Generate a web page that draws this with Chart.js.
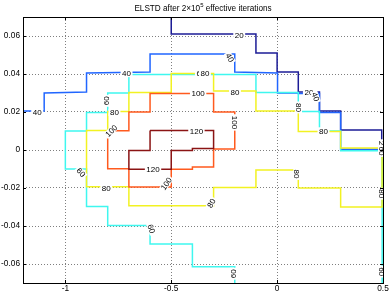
<!DOCTYPE html>
<html>
<head>
<meta charset="utf-8">
<script src="https://cdn.jsdelivr.net/npm/chart.js@4"></script>
<style>
html, body { margin: 0; padding: 0; background: #fff; }
canvas { display: block; }
</style>
</head>
<body>
<canvas id="chart" width="390" height="293" style="width:390px;height:293px"></canvas>
<script>
// contour levels and their colours (jet-like)
const levels = [20, 40, 60, 80, 100, 120];
const levelColors = ['#1c1c96', '#2166ff', '#3ff7ef', '#f2f222', '#ff5a1e', '#8b1414'];

const xTicks = [-1, -0.5, 0, 0.5];
const yTicks = [-0.06, -0.04, -0.02, 0, 0.02, 0.04, 0.06];

// contour paths, [x, y]
const contour20 = [[-0.5, 0.07], [-0.5, 0.061], [-0.1, 0.061], [-0.1, 0.051], [0.0, 0.051], [0.0, 0.041],
    [0.1, 0.041], [0.1, 0.0305], [0.2, 0.0305], [0.2, 0.0205], [0.3, 0.0205], [0.3, 0.0105],
    [0.494, 0.0105], [0.494, -0.003]];
const contour40 = [[-1.2, 0.0205], [-1.1, 0.0205], [-1.1, 0.03], [-0.9, 0.0305], [-0.9, 0.0405],
    [-0.6, 0.041], [-0.6, 0.0505], [-0.2, 0.0505], [-0.2, 0.041], [0.002, 0.0405], [0.002, 0.03],
    [0.1, 0.03], [0.1, 0.0298], [0.2, 0.0298], [0.2, 0.0198], [0.3, 0.0198], [0.3, 0.0004],
    [0.494, 0.0004], [0.494, -0.004]];
const contour60 = [[-0.2, -0.07], [-0.2, -0.0615], [-0.4, -0.0615], [-0.4, -0.0495], [-0.6, -0.0495],
    [-0.6, -0.0398], [-0.8, -0.0398], [-0.8, -0.0298], [-0.9, -0.0298], [-0.9, -0.01], [-1.0, -0.01],
    [-1.0, 0.01], [-0.9, 0.01], [-0.9, 0.0198], [-0.8, 0.0198], [-0.8, 0.03], [-0.7, 0.03],
    [-0.7, 0.0398], [-0.1, 0.0398], [-0.1, 0.0302], [0.1, 0.0302], [0.1, 0.0202], [0.2, 0.0202],
    [0.2, 0.01], [0.3, 0.01], [0.3, -0.0004], [0.496, -0.0004], [0.496, -0.07]];
const contour80 = [[-0.9, 0.0], [-0.9, 0.0102], [-0.8, 0.0102], [-0.8, 0.0202], [-0.7, 0.0202],
    [-0.7, 0.0302], [-0.5, 0.0302], [-0.5, 0.0402], [-0.3, 0.0402], [-0.3, 0.031], [-0.1, 0.031],
    [-0.1, 0.0205], [0.1, 0.0205], [0.1, 0.0098], [0.3, 0.0098], [0.3, 0.001], [0.4955, 0.001],
    [0.4955, -0.03], [0.3, -0.03], [0.3, -0.02], [0.1, -0.02], [0.1, -0.0105], [-0.1, -0.0105],
    [-0.1, -0.0198], [-0.3, -0.0198], [-0.3, -0.0293], [-0.7, -0.0293], [-0.7, -0.0194],
    [-0.9, -0.0194], [-0.9, 0.0]];
const contour100 = [[-0.8, 0.0101], [-0.7, 0.0101], [-0.7, 0.02], [-0.6, 0.02], [-0.6, 0.0297],
    [-0.3, 0.0297], [-0.3, 0.02], [-0.2, 0.02], [-0.2, 0.0005], [-0.3, 0.0005], [-0.3, -0.009],
    [-0.4, -0.009], [-0.4, -0.0101], [-0.5, -0.0101], [-0.5, -0.0195], [-0.7, -0.0195],
    [-0.7, -0.0099], [-0.8, -0.0099], [-0.8, 0.0101]];
const contour120 = [[-0.6, 0.0102], [-0.3, 0.0102], [-0.3, 0.0008], [-0.4, 0.0008], [-0.4, -0.0002],
    [-0.5, -0.0002], [-0.5, -0.0101], [-0.7, -0.0101], [-0.7, -0.0003], [-0.6, -0.0003], [-0.6, 0.0102]];

const contours = [contour20, contour40, contour60, contour80, contour100, contour120];

// inline contour labels: text, x, y, rotation (deg)
const contourLabels = [
    ['40', -1.133, 0.0201, 0],
    ['40', -0.711, 0.0402, 0],
    ['20', -0.179, 0.0605, 0],
    ['40', -0.223, 0.0486, 60],
    ['60', -0.360, 0.0402, 0],
    ['80', -0.341, 0.0402, 0],
    ['100', -0.373, 0.0297, 0],
    ['80', -0.199, 0.0305, 0],
    ['100', -0.199, 0.0145, 90],
    ['120', -0.381, 0.0101, 0],
    ['120', -0.586, -0.0100, 0],
    ['100', -0.523, -0.0178, -55],
    ['100', -0.783, 0.0101, -45],
    ['80', -0.768, 0.0197, 0],
    ['60', -0.807, 0.0259, -90],
    ['80', -0.807, -0.0199, 0],
    ['60', -0.926, -0.0118, 50],
    ['60', -0.594, -0.0415, 70],
    ['60', -0.207, -0.0651, -90],
    ['80', -0.310, -0.0280, -60],
    ['80', 0.093, -0.0126, 90],
    ['80', 0.101, 0.0224, 90],
    ['80', 0.219, 0.0101, 0],
    ['20', 0.150, 0.0302, 0],
    ['40', 0.182, 0.0280, 70],
    ['20', 0.493, 0.0025, 90],
    ['60', 0.493, -0.0005, 90],
    ['80', 0.493, -0.0230, 90],
    ['60', 0.493, -0.0640, 90]
];

const FONT = '"Liberation Sans", Arial, sans-serif';

const datasets = contours.map((pts, i) => ({
    label: String(levels[i]),
    data: pts.map(p => ({ x: p[0], y: p[1] })),
    showLine: true,
    borderColor: levelColors[i],
    borderWidth: 1.5,
    pointRadius: 0,
    tension: 0,
    fill: false,
    order: levels.length - i
}));

const framePlugin = {
    id: 'frame',
    afterDatasetsDraw(chart) {
        const ctx = chart.ctx;
        const a = chart.chartArea;
        const sx = chart.scales.x, sy = chart.scales.y;

        // labels on the contours
        ctx.save();
        ctx.beginPath();
        ctx.rect(a.left, a.top, a.right - a.left, a.bottom - a.top);
        ctx.clip();
        ctx.font = '8px ' + FONT;
        ctx.textAlign = 'center';
        ctx.textBaseline = 'middle';
        contourLabels.forEach(l => {
            const px = sx.getPixelForValue(l[1]);
            const py = sy.getPixelForValue(l[2]);
            const w = ctx.measureText(l[0]).width;
            ctx.save();
            ctx.translate(px, py);
            ctx.rotate(l[3] * Math.PI / 180);
            ctx.fillStyle = '#fff';
            ctx.fillRect(-w / 2 - 1.5, -3.5, w + 3, 7);
            ctx.fillStyle = '#000';
            ctx.fillText(l[0], 0, 0.5);
            ctx.restore();
        });
        ctx.restore();
    },
    afterDraw(chart) {
        const ctx = chart.ctx;
        const a = chart.chartArea;
        const sx = chart.scales.x, sy = chart.scales.y;
        ctx.save();
        ctx.strokeStyle = '#000';
        ctx.lineWidth = 1;
        ctx.strokeRect(Math.round(a.left) + 0.5, Math.round(a.top) + 0.5,
            Math.round(a.right - a.left), Math.round(a.bottom - a.top));
        // inward tick marks on all four sides
        ctx.beginPath();
        xTicks.forEach(v => {
            const px = Math.round(sx.getPixelForValue(v)) + 0.5;
            ctx.moveTo(px, a.top); ctx.lineTo(px, a.top + 3);
            ctx.moveTo(px, a.bottom); ctx.lineTo(px, a.bottom - 3);
        });
        yTicks.forEach(v => {
            const py = Math.round(sy.getPixelForValue(v)) + 0.5;
            ctx.moveTo(a.left, py); ctx.lineTo(a.left + 3, py);
            ctx.moveTo(a.right, py); ctx.lineTo(a.right - 3, py);
        });
        ctx.stroke();

        // title with raised exponent
        ctx.fillStyle = '#000';
        ctx.textBaseline = 'alphabetic';
        ctx.textAlign = 'left';
        const big = '8.2px ' + FONT, small = '6px ' + FONT;
        const parts = [['ELSTD after 2\u00d710', big, 0], ['5', small, -3.5], [' effective iterations', big, 0]];
        let total = 0;
        parts.forEach(p => { ctx.font = p[1]; total += ctx.measureText(p[0]).width; });
        let x = (a.left + a.right) / 2 - total / 2;
        parts.forEach(p => {
            ctx.font = p[1];
            ctx.fillText(p[0], x, 10.5 + p[2]);
            x += ctx.measureText(p[0]).width;
        });
        ctx.restore();
    }
};

const tickFont = { family: FONT, size: 8.3 };

new Chart(document.getElementById('chart').getContext('2d'), {
    type: 'scatter',
    data: { datasets: datasets },
    options: {
        responsive: false,
        animation: false,
        devicePixelRatio: 1,
        layout: { padding: { top: 17, right: 7, left: 0, bottom: 0 } },
        plugins: {
            legend: { display: false },
            tooltip: { enabled: false },
            title: { display: false }
        },
        scales: {
            x: {
                type: 'linear',
                min: -1.2,
                max: 0.5,
                afterBuildTicks: s => { s.ticks = xTicks.map(v => ({ value: v })); },
                afterFit: s => { s.height = 10; },
                ticks: { font: tickFont, color: '#000', padding: 1, maxRotation: 0, autoSkip: false,
                    callback: v => String(v) },
                grid: { color: 'rgba(0,0,0,0.5)', lineWidth: 1, drawTicks: false },
                border: { display: false, dash: [1, 2] }
            },
            y: {
                type: 'linear',
                min: -0.07,
                max: 0.07,
                afterBuildTicks: s => { s.ticks = yTicks.map(v => ({ value: v })); },
                afterFit: s => { s.width = 23; },
                ticks: { font: tickFont, color: '#000', padding: 3, autoSkip: false,
                    callback: v => String(Math.round(v * 100) / 100) },
                grid: { color: 'rgba(0,0,0,0.5)', lineWidth: 1, drawTicks: false },
                border: { display: false, dash: [1, 2] }
            }
        }
    },
    plugins: [framePlugin]
});
</script>
</body>
</html>
